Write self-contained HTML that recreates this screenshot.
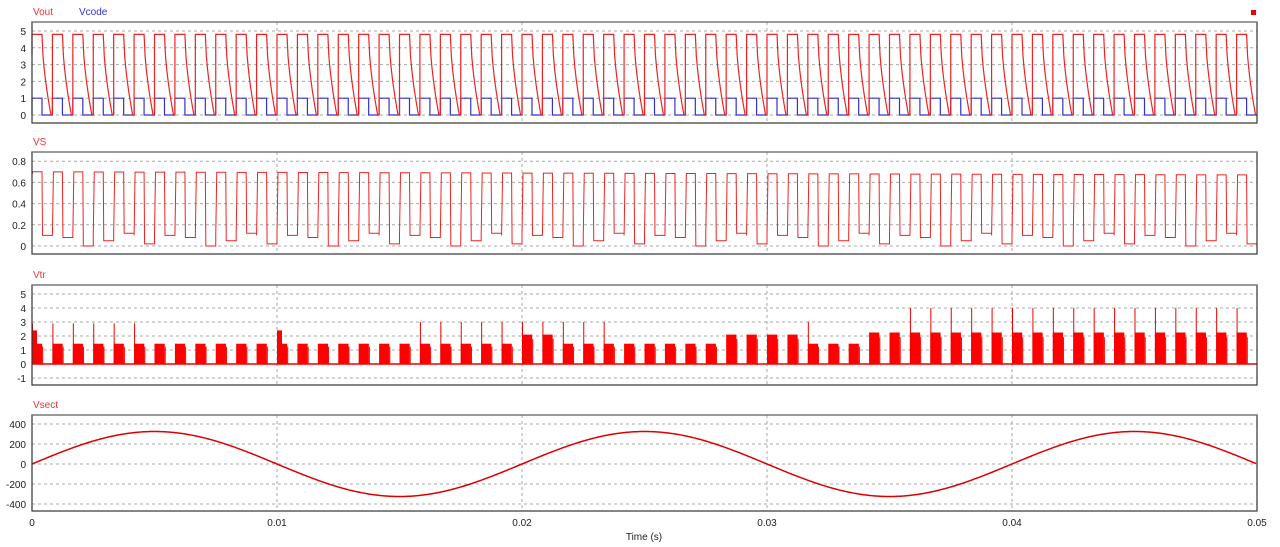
<!DOCTYPE html>
<html><head><meta charset="utf-8"><style>
html,body{margin:0;padding:0;background:#fff;}
svg{display:block;font-family:"Liberation Sans",sans-serif;}
</style></head><body>
<svg id="s" width="1280" height="547" xmlns="http://www.w3.org/2000/svg"></svg>
<script>
const s=document.getElementById('s');
let h='';
const X0=32,X1=1257,W=X1-X0;
const xt=t=>X0+t/0.05*W;
const P=W/60;
function panel(top,bot,ticks,ymap,title,title2){
  for(const v of ticks){const y=ymap(v);h+=`<line x1="${X0}" x2="${X1}" y1="${y}" y2="${y}" stroke="#aaa" stroke-dasharray="3,3"/>`;
    h+=`<text x="26" y="${y+4}" font-size="10" text-anchor="end" fill="#222">${v}</text>`;}
  for(let i=1;i<5;i++){const x=xt(i*0.01);h+=`<line x1="${x}" x2="${x}" y1="${top}" y2="${bot}" stroke="#aaa" stroke-dasharray="3,3"/>`;}
  h+=`<text x="33" y="${top-7}" font-size="10" fill="#e33">${title}</text>`;
  if(title2)h+=`<text x="79" y="${top-7}" font-size="10" fill="#33d">${title2}</text>`;
}
function frame(top,bot){h+=`<rect x="${X0}" y="${top}" width="${W}" height="${bot-top}" fill="none" stroke="#333" stroke-width="1.2"/><line x1="${X0}" x2="${X1}" y1="${top}" y2="${top}" stroke="#777" stroke-width="1.2"/>`;}
// Panel 1
const m1=v=>115-v*16.8;
panel(22,123,[5,4,3,2,1,0],m1,'Vout','Vcode');
let d='',dc='';
for(let k=0;k<60;k++){const x=X0+k*P;
  d+=(k?`L${x} ${m1(0.05)}`:`M${x} ${m1(3.6)}`)+`L${x} ${m1(4.8)}L${x+10} ${m1(4.8)}`;
  for(let j=1;j<=9;j++){d+=`L${x+10+j} ${m1(4.8*(1-Math.pow(j/9,0.6)) )}`;}
  d+=`L${x+P} ${m1(0.05)}`;
  dc+=`${k?'L':'M'}${x} ${m1(0)}L${x} ${m1(1)}L${x+10} ${m1(1)}L${x+10} ${m1(0)}L${x+P} ${m1(0)}`;
}
h+=`<path d="${dc}" fill="none" stroke="#33c" stroke-width="1.2"/>`;
h+=`<path d="${d}" fill="none" stroke="#e22" stroke-width="1.2"/>`;
frame(22,123);
h+=`<rect x="1251" y="10" width="5" height="5" fill="#e00"/>`;
// Panel 2
const m2=v=>246-v*106;
panel(152,254,[0.8,0.6,0.4,0.2,0],m2,'VS');
d='';
for(let k=0;k<60;k++){const x=X0+k*P;const lo=[0.1,0.08,0.0,0.05,0.12,0.02][k%6];const hi=0.7-0.0005*k;
  d+=`${k?'L':'M'}${x} ${m2(k?0.1:0.68)}L${x+1} ${m2(hi)}L${x+10} ${m2(hi)}L${x+10.5} ${m2(lo)}L${x+P} ${m2(lo)}`;}
d+=`L${X1} ${m2(0.12)}`;
h+=`<path d="${d}" fill="none" stroke="#e22" stroke-width="1"/>`;
frame(152,254);
// Panel 3
const m3=v=>364-v*14;
panel(285,385,[5,4,3,2,1,0,-1],m3,'Vtr');
function lev(x){if(x<510)return 1.45;if(x<560)return 2.1;if(x<715)return 1.45;if(x<805)return 2.1;if(x<865)return 1.45;return 2.25;}
function spk(x){if(x<150)return 2.9;if(x<415)return 0;if(x<610)return 3.0;if(x<800)return 0;if(x<820)return 3.0;if(x<900)return 0;return 4.0;}
h+=`<line x1="${X0}" x2="${X1}" y1="${m3(0)}" y2="${m3(0)}" stroke="#e00" stroke-width="1.5"/>`;
for(let k=0;k<60;k++){const x=X0+k*P;const L=lev(x);
  h+=`<rect x="${x}" y="${m3(L)}" width="${P*0.5}" height="${m3(0)-m3(L)}" fill="#f00"/>`;
  h+=`<rect x="${x+P*0.5}" y="${m3(L*0.85)}" width="1" height="${m3(0)-m3(L*0.85)}" fill="#f00"/>`;
  const sp=spk(x);if(sp)h+=`<line x1="${x+0.5}" x2="${x+0.5}" y1="${m3(sp)}" y2="${m3(0)}" stroke="#e00" stroke-width="1"/>`;}
h+=`<rect x="${X0}" y="${m3(2.4)}" width="5" height="${m3(0)-m3(2.4)}" fill="#f00"/>`;
h+=`<rect x="${xt(0.01)}" y="${m3(2.4)}" width="5" height="${m3(0)-m3(2.4)}" fill="#f00"/>`;
frame(285,385);
// Panel 4
const m4=v=>464-v*0.1;
panel(415,511,[400,200,0,-200,-400],m4,'Vsect');
d='';
for(let i=0;i<=W;i+=2){const t=i/W*0.05;d+=`${i?'L':'M'}${X0+i} ${m4(325*Math.sin(2*Math.PI*50*t))}`;}
h+=`<path d="${d}" fill="none" stroke="#d00" stroke-width="1.5"/>`;
frame(415,511);
for(let i=0;i<=5;i++){const x=xt(i*0.01);h+=`<text x="${x}" y="526" font-size="10" text-anchor="middle" fill="#222">${i?(i*0.01).toFixed(2).replace(/0$/,''):'0'}</text>`;}
h+=`<text x="644" y="540" font-size="10" text-anchor="middle" fill="#222">Time (s)</text>`;
s.innerHTML=h;
</script>
</body></html>
